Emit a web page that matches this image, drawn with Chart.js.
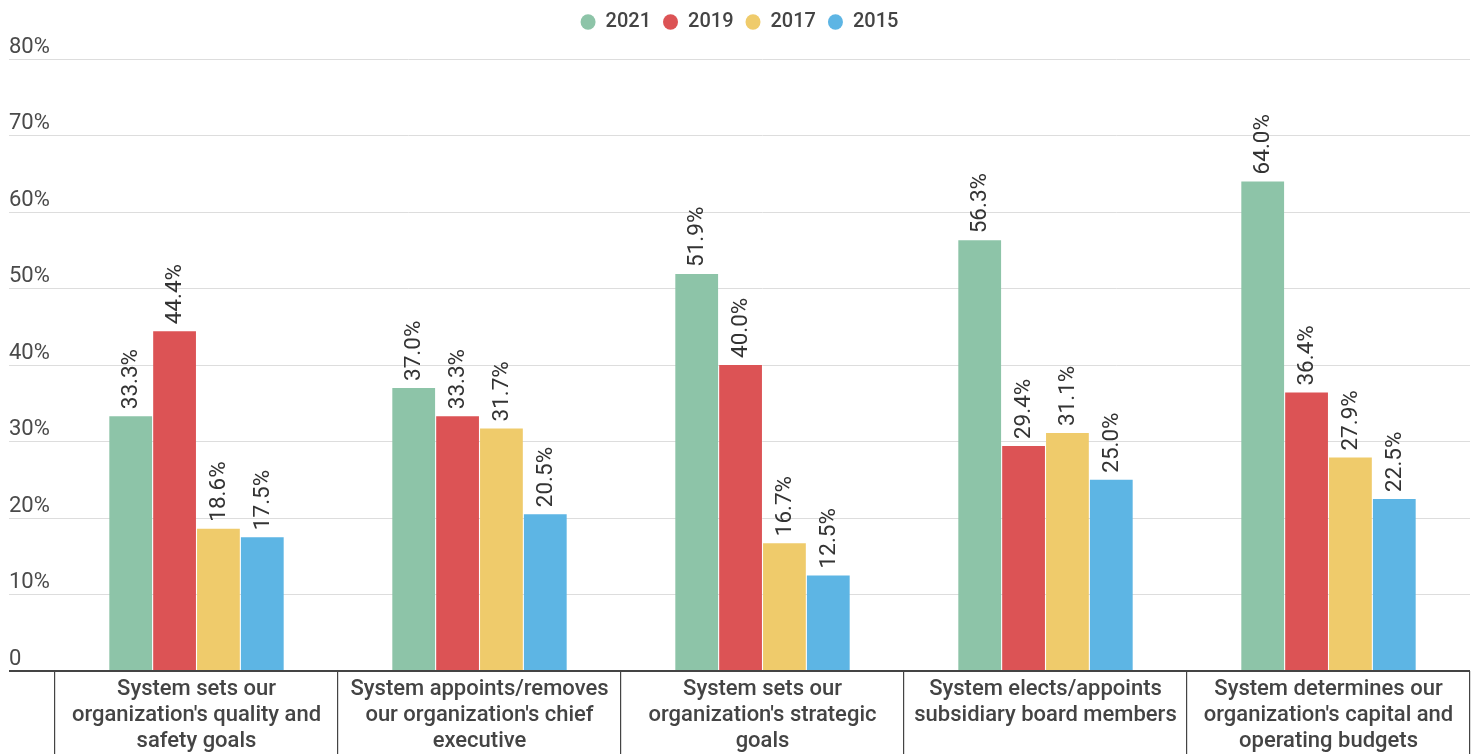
<!DOCTYPE html>
<html>
<head>
<meta charset="utf-8">
<title>System authority over member organizations</title>
<script src="https://cdn.jsdelivr.net/npm/chart.js@4/dist/chart.umd.min.js"></script>
<style>
  html, body { margin: 0; padding: 0; background: #fff; }
  #wrap { width: 1475px; height: 754px; position: relative; }
</style>
</head>
<body>
<div id="wrap"><canvas id="chart"></canvas></div>
<script>
// Categories (multi-line axis labels)
const categories = [
  ["System sets our", "organization's quality and", "safety goals"],
  ["System appoints/removes", "our organization's chief", "executive"],
  ["System sets our", "organization's strategic", "goals"],
  ["System elects/appoints", "subsidiary board members"],
  ["System determines our", "organization's capital and", "operating budgets"]
];

// Share of respondents (%) by survey year
const values2021 = [33.3, 37.0, 51.9, 56.3, 64.0];
const values2019 = [44.4, 33.3, 40.0, 29.4, 36.4];
const values2017 = [18.6, 31.7, 16.7, 31.1, 27.9];
const values2015 = [17.5, 20.5, 12.5, 25.0, 22.5];

const seriesNames = ["2021", "2019", "2017", "2015"];
const seriesColors = ["#8dc4a8", "#dc5355", "#efcb6b", "#5db5e4"];
const seriesValues = [values2021, values2019, values2017, values2015];

// Y axis ticks
const yTicks = [0, 10, 20, 30, 40, 50, 60, 70, 80];

const FONT = "Roboto, 'Open Sans', sans-serif";

// Rotated value labels above each bar
const barValueLabels = {
  id: 'barValueLabels',
  afterDatasetsDraw(chart) {
    const ctx = chart.ctx;
    ctx.save();
    ctx.font = "22.5px " + FONT;
    ctx.fillStyle = "#333333";
    ctx.textAlign = "left";
    ctx.textBaseline = "middle";
    chart.data.datasets.forEach((ds, di) => {
      const meta = chart.getDatasetMeta(di);
      meta.data.forEach((bar, i) => {
        const v = ds.data[i];
        ctx.save();
        ctx.translate(bar.x, bar.y - 7);
        ctx.rotate(-Math.PI / 2);
        ctx.fillText(v.toFixed(1) + "%", 0, 1);
        ctx.restore();
      });
    });
    ctx.restore();
  }
};

// Extra space under the legend
const legendSpacing = {
  id: 'legendSpacing',
  beforeInit(chart) {
    const legend = chart.legend;
    if (!legend) return;
    const origFit = legend.fit;
    legend.fit = function () {
      origFit.call(this);
      this.height += 17;
    };
  }
};

new Chart(document.getElementById('chart'), {
  type: 'bar',
  data: {
    labels: categories,
    datasets: seriesNames.map((name, i) => ({
      label: name,
      data: seriesValues[i],
      backgroundColor: seriesColors[i],
      borderWidth: 0,
      categoryPercentage: 0.62,
      barPercentage: 0.975
    }))
  },
  options: {
    responsive: true,
    maintainAspectRatio: false,
    animation: false,
    layout: { padding: { left: 9, right: 5, top: 0, bottom: 0 } },
    plugins: {
      legend: {
        position: 'top',
        align: 'center',
        labels: {
          usePointStyle: true,
          pointStyle: 'circle',
          boxWidth: 15,
          boxHeight: 11,
          pointStyleWidth: 15,
          padding: 12,
          color: '#444444',
          font: { family: FONT, size: 20, weight: '500' }
        }
      },
      tooltip: { enabled: false }
    },
    scales: {
      x: {
        offset: true,
        grid: {
          offset: true,
          drawOnChartArea: false,
          drawTicks: true,
          tickLength: 83,
          color: '#444444',
          lineWidth: 1.2
        },
        border: { display: false },
        ticks: {
          padding: -77,
          maxRotation: 0,
          autoSkip: false,
          color: '#444444',
          font: { family: FONT, size: 22, weight: '500', lineHeight: 1.18 }
        },
        afterFit(scale) { scale.height = 83; }
      },
      y: {
        min: 0,
        max: 80,
        afterBuildTicks(scale) {
          scale.ticks = yTicks.map(v => ({ value: v }));
        },
        grid: {
          drawTicks: true,
          tickLength: 46,
          color: (c) => (c.tick && c.tick.value === 0 ? '#444444' : '#dddddd'),
          tickColor: (c) => (c.tick && c.tick.value === 0 ? '#444444' : '#dddddd'),
          lineWidth: (c) => (c.tick && c.tick.value === 0 ? 2 : 1)
        },
        border: { display: false },
        ticks: {
          crossAlign: 'far',
          labelOffset: -12,
          color: '#4a4a4a',
          font: { family: FONT, size: 22 },
          callback: (v) => (v === 0 ? '0' : v + '%')
        },
        afterFit(scale) {
          scale.width = 46;
          scale.paddingTop = 0;
          scale.paddingBottom = 0;
        }
      }
    }
  },
  plugins: [barValueLabels, legendSpacing]
});
</script>
</body>
</html>
